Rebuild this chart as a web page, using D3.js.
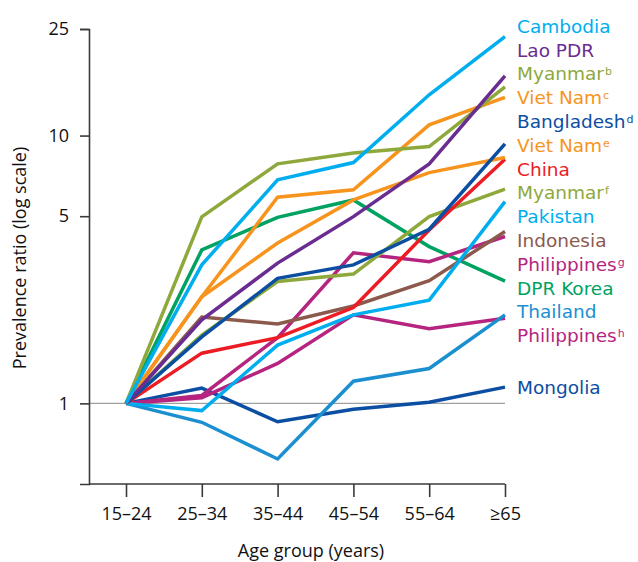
<!DOCTYPE html>
<html>
<head>
<meta charset="utf-8">
<script src="https://cdn.jsdelivr.net/npm/d3@7"></script>
<style>
  body { margin: 0; background: #fff; }
</style>
</head>
<body>
<svg id="chart" width="638" height="562"></svg>
<script>
// age groups on the x axis
const ageGroups = ["15–24", "25–34", "35–44", "45–54", "55–64", "≥65"];

// one line per survey, in legend order
const countries = ["Cambodia", "Lao PDR", "Myanmar", "Viet Nam", "Bangladesh", "Viet Nam", "China",
  "Myanmar", "Pakistan", "Indonesia", "Philippines", "DPR Korea", "Thailand", "Philippines", "Mongolia"];
const notes = ["", "", "b", "c", "d", "e", "", "f", "", "", "g", "", "", "h", ""];
const colors = ["#00aeef", "#6b2c91", "#8ea83c", "#f7941d", "#0b4ea2", "#f7941d", "#ed1c24",
  "#8ea83c", "#00aeef", "#8b5a4c", "#b5257f", "#00a261", "#1b8fd0", "#b5257f", "#0b4ea2"];

// prevalence ratio vs 15-24 years
const ratios = [
  [1, 3.29, 6.83, 7.93, 14.2, 23.4],
  [1, 2.05, 3.34, 4.98, 7.84, 16.7],
  [1, 4.97, 7.84, 8.6, 9.1, 15.2],
  [1, 2.5, 5.89, 6.27, 10.96, 13.9],
  [1, 1.77, 2.93, 3.29, 4.47, 9.31],
  [1, 2.5, 3.97, 5.75, 7.27, 8.28],
  [1, 1.54, 1.76, 2.28, 4.44, 8.16],
  [1, 1.8, 2.85, 3.04, 4.98, 6.31],
  [1, 0.94, 1.65, 2.14, 2.43, 5.67],
  [1, 2.1, 1.98, 2.31, 2.87, 4.38],
  [1, 1.07, 1.76, 3.65, 3.38, 4.2],
  [1, 3.74, 4.95, 5.75, 3.85, 2.86],
  [1, 0.85, 0.62, 1.21, 1.35, 2.14],
  [1, 1.05, 1.41, 2.14, 1.9, 2.08],
  [1, 1.14, 0.854, 0.95, 1.01, 1.15]
];

const yTicks = [1, 5, 10, 25];

const svg = d3.select("#chart")
  .attr("font-family", "'Open Sans', sans-serif");

const margin = {top: 29, right: 133, bottom: 78, left: 89};
const width = 638 - margin.left - margin.right;
const height = 562 - margin.top - margin.bottom;

const x = d3.scalePoint()
  .domain(ageGroups)
  .range([margin.left + 37, margin.left + width]);

const y = d3.scaleLog()
  .domain([0.5, 25])
  .range([margin.top + height, margin.top]);

// reference line at 1
svg.append("line")
  .attr("x1", margin.left).attr("x2", x("≥65"))
  .attr("y1", y(1)).attr("y2", y(1))
  .attr("stroke", "#a0a0a0")
  .attr("stroke-width", 1.3);

// axes
const yAxis = svg.append("g")
  .attr("transform", `translate(${margin.left},0)`)
  .call(d3.axisLeft(y).tickValues(yTicks).tickFormat(d3.format("d")).tickSize(9).tickPadding(11));

const xAxis = svg.append("g")
  .attr("transform", `translate(0,${margin.top + height})`)
  .call(d3.axisBottom(x).tickSize(13).tickPadding(10).tickSizeOuter(0));

xAxis.select(".domain").attr("d", `M${margin.left},0H${x("≥65")}`);

[yAxis, xAxis].forEach(g => {
  g.select(".domain").attr("stroke", "#3a3a3a").attr("stroke-width", 1.6);
  g.selectAll(".tick line").attr("stroke", "#3a3a3a").attr("stroke-width", 1.6);
  g.selectAll(".tick text").attr("fill", "#111").attr("font-size", 18)
    .attr("font-family", "'Open Sans', sans-serif");
});

// axis titles
svg.append("text")
  .attr("transform", `translate(26,${margin.top + 229}) rotate(-90)`)
  .attr("text-anchor", "middle")
  .attr("font-size", 18)
  .attr("fill", "#111")
  .text("Prevalence ratio (log scale)");

svg.append("text")
  .attr("x", 311).attr("y", 557)
  .attr("text-anchor", "middle")
  .attr("font-size", 18)
  .attr("fill", "#111")
  .text("Age group (years)");

// lines
const line = d3.line()
  .x((d, i) => x(ageGroups[i]))
  .y(d => y(d));

const series = countries.map((c, i) => ({name: c, note: notes[i], color: colors[i], values: ratios[i]}));

svg.append("g")
  .selectAll("path")
  .data(series.slice().reverse())
  .join("path")
  .attr("d", d => line(d.values))
  .attr("fill", "none")
  .attr("stroke", d => d.color)
  .attr("stroke-width", 3.5)
  .attr("stroke-linejoin", "miter");

// labels: start at the line end and spread overlapping groups
const gap = 23.8;
let groups = series.map(d => ({items: [d], target: y(d.values[5])}));
let merged = true;
while (merged) {
  merged = false;
  for (let i = 0; i < groups.length - 1; i++) {
    const a = groups[i], b = groups[i + 1];
    const aBottom = a.target + (a.items.length - 1) / 2 * gap;
    const bTop = b.target - (b.items.length - 1) / 2 * gap;
    if (bTop - aBottom < gap) {
      const items = a.items.concat(b.items);
      const target = d3.mean(items, d => y(d.values[5]));
      groups.splice(i, 2, {items, target});
      merged = true;
      break;
    }
  }
}
groups.forEach(g => {
  g.items.forEach((d, k) => { d.ly = g.target + (k - (g.items.length - 1) / 2) * gap; });
});

const labels = svg.append("g")
  .selectAll("text")
  .data(series)
  .join("text")
  .attr("x", x("≥65") + 12)
  .attr("y", d => d.ly)
  .attr("dy", "0.36em")
  .attr("font-family", "'DejaVu Sans', sans-serif")
  .attr("font-size", 18.5)
  .attr("fill", d => d.color);

labels.append("tspan").text(d => d.name);
labels.filter(d => d.note)
  .append("tspan")
  .attr("font-size", 11)
  .attr("dy", "-0.45em")
  .attr("dx", 1)
  .text(d => d.note);
</script>
</body>
</html>
